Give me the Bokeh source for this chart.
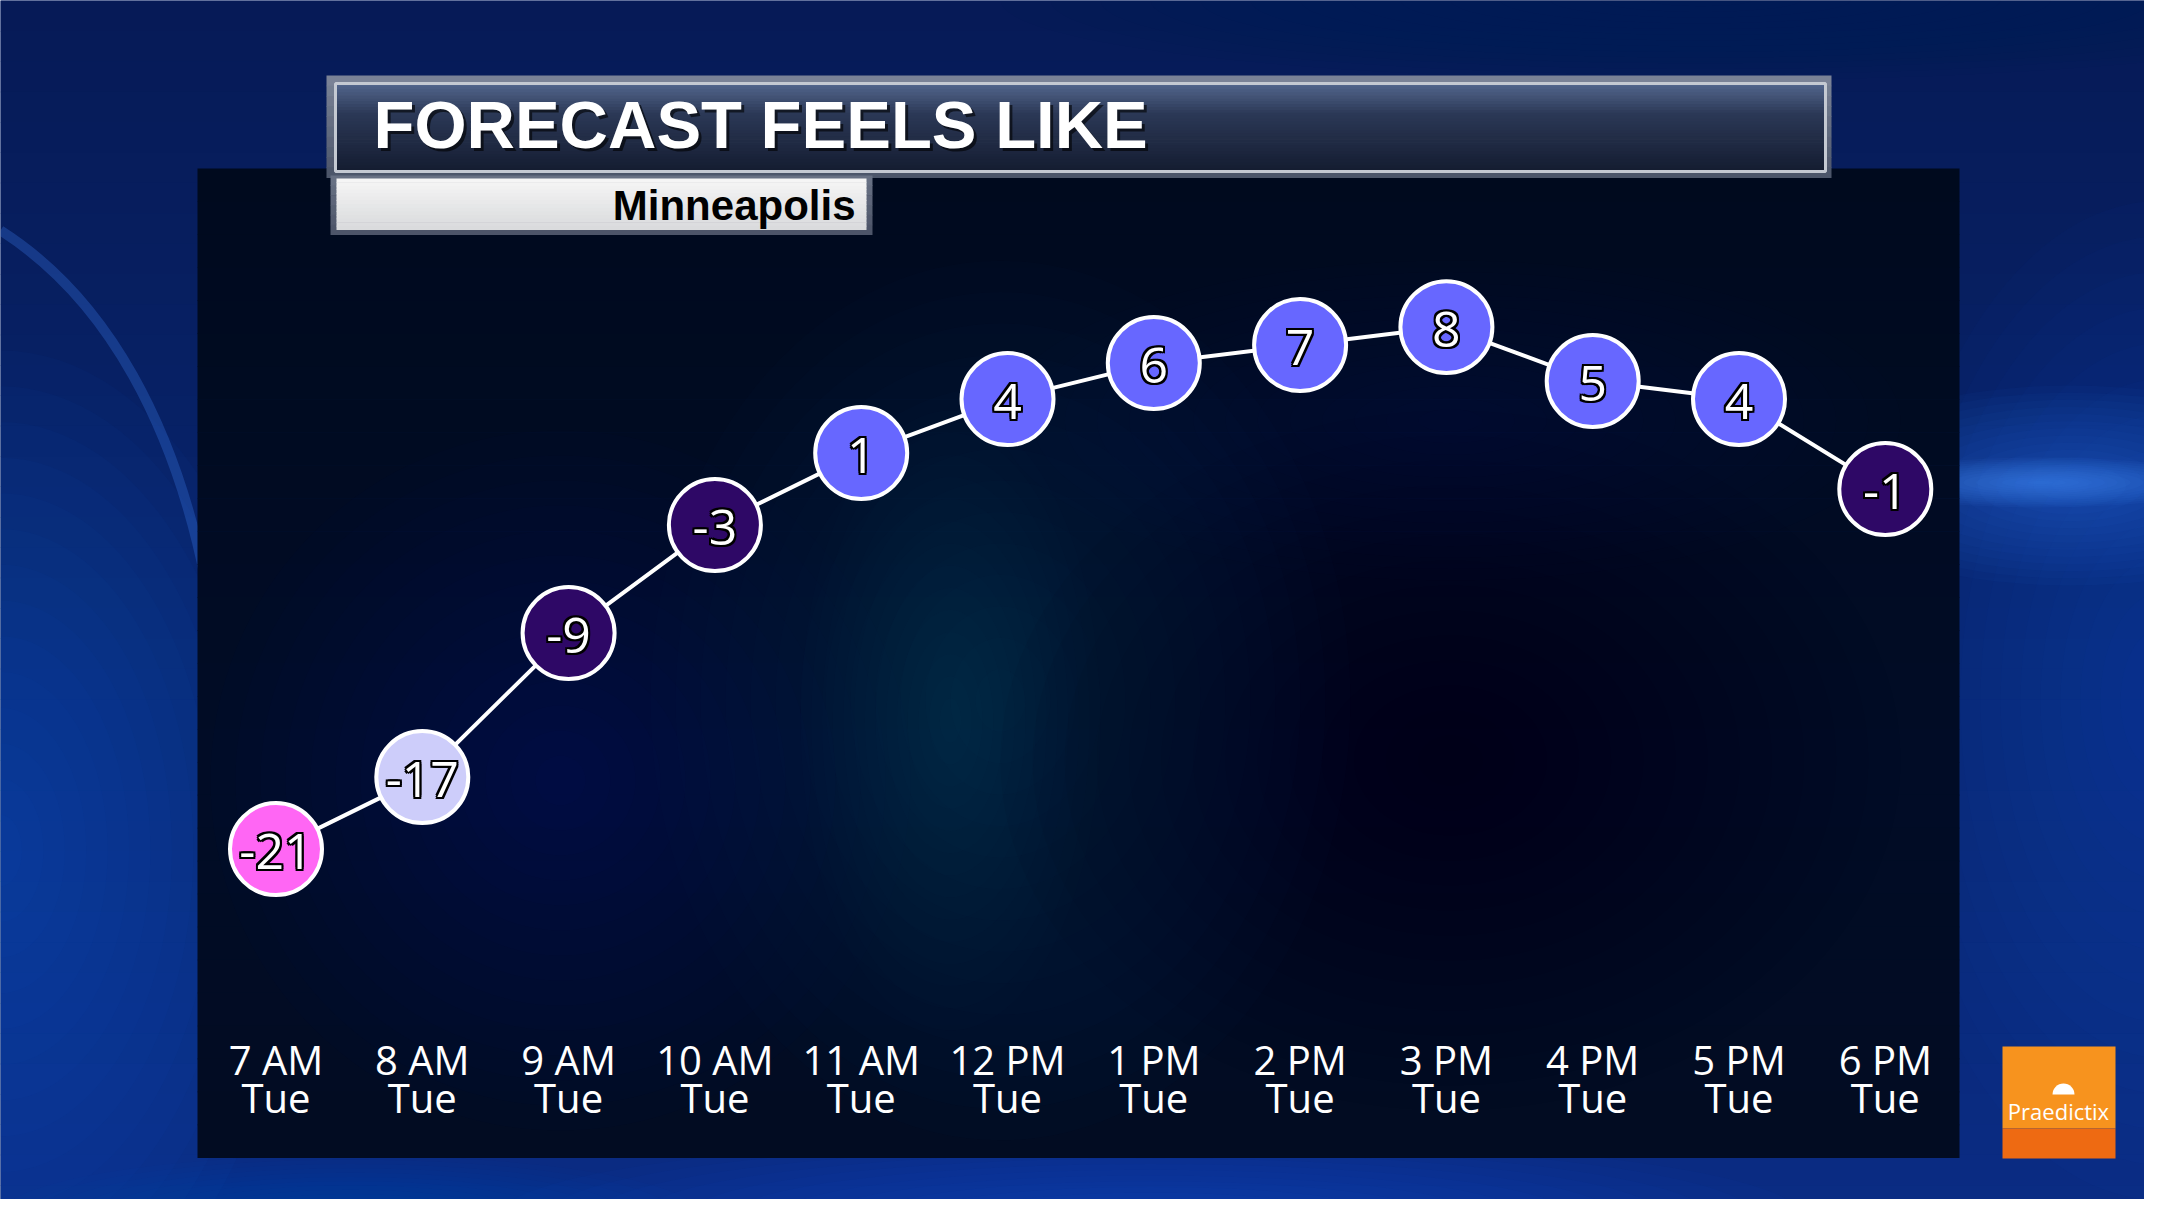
from bokeh.plotting import figure
from bokeh.models import Range1d
from bokeh.embed import file_html
from bokeh.resources import INLINE
from bokeh.core.properties import value

# ---------------- data ----------------
hours = ["7 AM", "8 AM", "9 AM", "10 AM", "11 AM", "12 PM",
         "1 PM", "2 PM", "3 PM", "4 PM", "5 PM", "6 PM"]
days = ["Tue"] * 12
feels_like = [-21, -17, -9, -3, 1, 4, 6, 7, 8, 5, 4, -1]
title_text = "FORECAST FEELS LIKE"
location_text = "Minneapolis"
brand_text = "Praedictix"


def bucket_color(t):
    if t <= -20:
        return "#ff66f4"
    if t <= -10:
        return "#cdcdfa"
    if t <= 0:
        return "#2e0866"
    return "#6767ff"


idx = list(range(len(hours)))
colors = [bucket_color(t) for t in feels_like]
labels = [str(t) for t in feels_like]

# ---------------- layout (pixel geometry of the page) ----------------
W, H, OFF = 2144, 1199, 0
X_FIRST, DX = 275.5, 146.3          # pixel x of first slot, pixel step per slot
Y_MIN, DY = 848.6, 18.0             # pixel y of lowest value, pixels per degree
T_MIN = min(feels_like)


def px(X):
    return (X - X_FIRST) / DX


def py(Y):
    return T_MIN + (Y_MIN - Y) / DY


p = figure(width=W, height=H, output_backend="svg", toolbar_location=None,
           x_range=Range1d(px(OFF), px(OFF + W)),
           y_range=Range1d(py(OFF + H), py(OFF)),
           x_axis_type=None, y_axis_type=None, min_border=0)
p.grid.visible = False
p.outline_line_color = None
p.background_fill_color = "#07206a"
p.border_fill_color = "#07206a"


def hex2rgb(h):
    h = h.lstrip("#")
    return [int(h[i:i + 2], 16) for i in (0, 2, 4)]


def interp(stops, t):
    for (t0, c0), (t1, c1) in zip(stops[:-1], stops[1:]):
        if t0 <= t <= t1:
            f = 0 if t1 == t0 else (t - t0) / (t1 - t0)
            a, b = hex2rgb(c0), hex2rgb(c1)
            return "#%02x%02x%02x" % tuple(int(round(a[k] + (b[k] - a[k]) * f)) for k in range(3))
    return stops[-1][1]


def vgrad(x0, y0, x1, y1, stops, n=30, alpha=1.0):
    h = (y1 - y0) / n
    tops, bots, cols = [], [], []
    for i in range(n):
        tops.append(py(y0 + i * h))
        bots.append(py(y0 + (i + 1) * h + 0.6))
        cols.append(interp(stops, (i + 0.5) / n))
    p.quad(left=[px(x0)] * n, right=[px(x1)] * n, top=tops, bottom=bots,
           fill_color=cols, line_color=None, fill_alpha=alpha)


def box(x0, y0, x1, y1, color, alpha=1.0, line_color=None, line_width=1):
    p.quad(left=px(x0), right=px(x1), top=py(y0), bottom=py(y1),
           fill_color=color, fill_alpha=alpha, line_color=line_color, line_width=line_width)


def glow(x, y, w, h, color, alpha, n=14):
    a = 1 - (1 - alpha) ** (1.0 / n)
    ws = [w * (1 - k / n) for k in range(n)]
    hs = [h * (1 - k / n) for k in range(n)]
    p.ellipse(x=[px(x)] * n, y=[py(y)] * n, width=ws, height=hs, width_units="screen",
              height_units="screen", fill_color=color, fill_alpha=a, line_color=None)


# ---------------- outer background ----------------
vgrad(0, 0, 2160, 1215, [(0, "#061a56"), (0.5, "#08246c"), (1, "#0a2c84")], n=40)
glow(0, 850, 600, 1000, "#1458d8", 0.45)
glow(2160, 700, 560, 1000, "#0f4ac4", 0.45)
glow(2070, 485, 520, 200, "#2a70e8", 0.45)
glow(2040, 482, 360, 50, "#4a96ff", 0.55)
glow(1150, 1215, 1300, 160, "#0e4cc8", 0.55)
glow(350, 1215, 700, 120, "#0e48c0", 0.40)
glow(1700, 0, 1400, 160, "#041650", 0.4)
p.bezier(x0=[px(0)], y0=[py(230)], x1=[px(205)], y1=[py(580)],
         cx0=[px(110)], cy0=[py(300)], cx1=[px(175)], cy1=[py(430)],
         line_color="#3a7ae8", line_alpha=0.3, line_width=10)

# ---------------- dark panel ----------------
vgrad(197, 168, 1959, 1157, [(0, "#000a1e"), (0.6, "#010c26"), (1, "#020c22")], n=30)
glow(560, 780, 700, 700, "#0c2d70", 0.35)
glow(1000, 700, 700, 880, "#0b4a78", 0.28)
glow(950, 720, 300, 620, "#0a5a70", 0.28)
glow(1450, 760, 900, 700, "#000510", 0.45)
glow(1450, 420, 900, 320, "#0a2356", 0.25)

# ---------------- title group ----------------
vgrad(326, 75, 1831, 177, [(0, "#7c8598"), (1, "#4a5368")], n=10)
vgrad(335, 83, 1825, 171, [(0, "#53668d"), (0.35, "#2b3856"), (1, "#141c30")], n=30)
box(335, 83, 1825, 171, "#000000", alpha=0.0, line_color="#c4c9d2", line_width=3)
vgrad(330, 175, 872, 234, [(0, "#6a7386"), (1, "#4a5266")], n=6)
vgrad(336, 178, 866, 229, [(0, "#f6f6f6"), (1, "#d9dadc")], n=14)

p.text(x=[px(373)], y=[py(124)], text=[title_text], text_font=value("Liberation Sans"),
       text_font_style="bold", text_font_size="67px", text_color="black", text_alpha=0.6,
       text_align="left", text_baseline="middle", x_offset=3, y_offset=3)
p.text(x=[px(373)], y=[py(124)], text=[title_text], text_font=value("Liberation Sans"),
       text_font_style="bold", text_font_size="67px", text_color="white",
       text_align="left", text_baseline="middle")
p.text(x=[px(855)], y=[py(205)], text=[location_text], text_font=value("Liberation Sans"),
       text_font_style="bold", text_font_size="42px", text_color="black",
       text_align="right", text_baseline="middle")

# ---------------- data marks ----------------
p.line(x=idx, y=feels_like, line_color="white", line_width=4)
p.scatter(x=idx, y=feels_like, size=92, fill_color=colors, line_color="white", line_width=4)

for ox, oy in [(-2, 0), (2, 0), (0, -2), (0, 2), (-2, -2), (2, 2), (-2, 2), (2, -2)]:
    p.text(x=idx, y=feels_like, text=labels, text_font=value("Open Sans"),
           text_font_size="50px", text_color="black", text_align="center",
           text_baseline="middle", x_offset=ox, y_offset=oy + 2)
p.text(x=idx, y=feels_like, text=labels, text_font=value("Open Sans"),
       text_font_size="50px", text_color="white", text_align="center",
       text_baseline="middle", y_offset=2)

# category labels
p.text(x=idx, y=[py(1059)] * len(idx), text=hours, text_font=value("Open Sans"),
       text_font_size="40px", text_color="white", text_align="center", text_baseline="middle")
p.text(x=idx, y=[py(1097)] * len(idx), text=days, text_font=value("Open Sans"),
       text_font_size="40px", text_color="white", text_align="center", text_baseline="middle")

# ---------------- logo ----------------
box(2002, 1046, 2115, 1128, "#f7931e")
box(2002, 1128, 2115, 1158, "#ee6a12")
p.wedge(x=[px(2063)], y=[py(1094)], radius=11, radius_units="screen",
        start_angle=0, end_angle=3.14159, fill_color="white", line_color=None)
p.text(x=[px(2058)], y=[py(1110)], text=[brand_text], text_font=value("Open Sans"),
       text_font_size="22px", text_color="white", text_align="center", text_baseline="middle")

open("out.html", "w").write(file_html(p, INLINE))
